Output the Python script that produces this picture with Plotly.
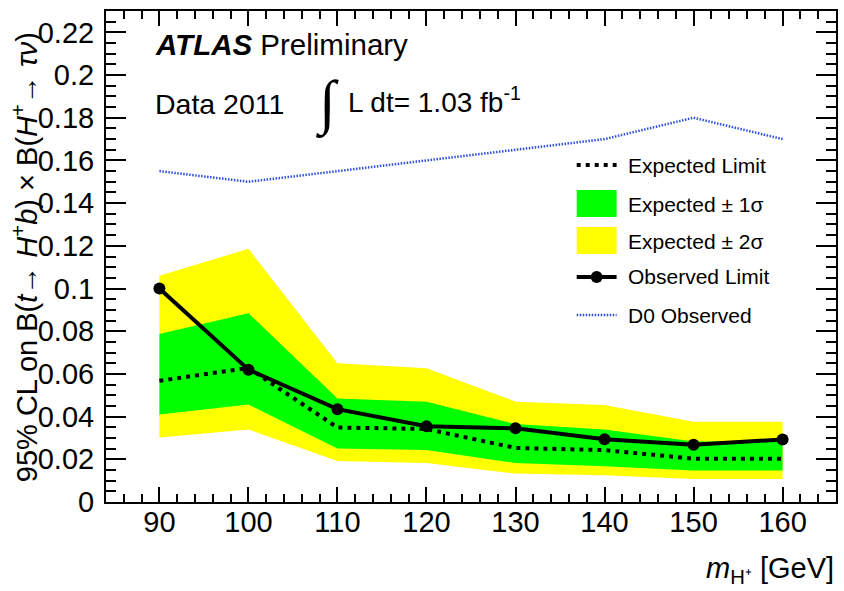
import plotly.graph_objects as go

# Charged Higgs search: 95% CL upper limits on B(t -> H+ b) x B(H+ -> tau nu)
mass = [90, 100, 110, 120, 130, 140, 150, 160]
observed = [0.100, 0.062, 0.0435, 0.0355, 0.0345, 0.0294, 0.0268, 0.0293]
expected = [0.0568, 0.0628, 0.0349, 0.0342, 0.0253, 0.0243, 0.0203, 0.0203]
sigma1_hi = [0.0787, 0.0884, 0.0485, 0.0470, 0.0365, 0.0340, 0.0283, 0.0285]
sigma1_lo = [0.0410, 0.0457, 0.0251, 0.0243, 0.0183, 0.0168, 0.0148, 0.0148]
sigma2_hi = [0.1060, 0.1186, 0.0650, 0.0626, 0.0470, 0.0454, 0.0376, 0.0376]
sigma2_lo = [0.0302, 0.0340, 0.0192, 0.0183, 0.0133, 0.0125, 0.0108, 0.0108]
d0_observed = [0.155, 0.150, 0.155, 0.160, 0.165, 0.170, 0.180, 0.170]

x_ticks = [90, 100, 110, 120, 130, 140, 150, 160]
y_ticks = [0, 0.02, 0.04, 0.06, 0.08, 0.1, 0.12, 0.14, 0.16, 0.18, 0.2, 0.22]
y_tick_labels = ["0", "0.02", "0.04", "0.06", "0.08", "0.1", "0.12", "0.14",
                 "0.16", "0.18", "0.2", "0.22"]

legend_labels = ["Expected Limit", "Expected \u00b1 1\u03c3", "Expected \u00b1 2\u03c3",
                 "Observed Limit", "D0 Observed"]

GREEN = "#00ff00"
YELLOW = "#ffff00"
BLUE = "#2f4fe0"
FONT = "Liberation Sans"

W, H = 844, 591
L, R, T, B = 106, 838, 11, 502  # plot frame in pixels


def px(x):
    return (x - L) / (R - L)


def py(y):
    return (B - y) / (B - T)


fig = go.Figure()

# +-2 sigma band, then +-1 sigma band on top
fig.add_trace(go.Scatter(
    x=mass + mass[::-1], y=sigma2_hi + sigma2_lo[::-1],
    fill="toself", fillcolor=YELLOW, mode="none", hoverinfo="skip"))
fig.add_trace(go.Scatter(
    x=mass + mass[::-1], y=sigma1_hi + sigma1_lo[::-1],
    fill="toself", fillcolor=GREEN, mode="none", hoverinfo="skip"))

fig.add_trace(go.Scatter(
    x=mass, y=d0_observed, mode="lines",
    line=dict(color=BLUE, width=2.5, dash="1.5px,1.5px")))
fig.add_trace(go.Scatter(
    x=mass, y=expected, mode="lines",
    line=dict(color="black", width=4, dash="4px,5px")))
fig.add_trace(go.Scatter(
    x=mass, y=observed, mode="lines+markers",
    line=dict(color="black", width=4),
    marker=dict(color="black", size=12)))

axis_common = dict(
    showgrid=False, zeroline=False, showline=True, linecolor="black",
    linewidth=2, mirror="allticks", ticks="inside", tickcolor="black",
    tickwidth=1.5, tickfont=dict(family=FONT, size=29, color="black"),
)

fig.update_xaxes(
    range=[84, 166], tickmode="array", tickvals=x_ticks,
    ticktext=[str(v) for v in x_ticks], ticklen=15, ticklabelstandoff=-7,
    minor=dict(dtick=2, tick0=84, ticklen=8, tickcolor="black", tickwidth=1.5,
               ticks="inside", showgrid=False),
    **axis_common)
fig.update_yaxes(
    range=[0, 0.23], tickmode="array", tickvals=y_ticks, ticktext=y_tick_labels,
    ticklen=20, ticklabelstandoff=4,
    minor=dict(dtick=0.005, tick0=0, ticklen=10, tickcolor="black", tickwidth=1.5,
               ticks="inside", showgrid=False),
    **axis_common)

shapes = []
annotations = []

# legend box contents
lx0, lx1 = 578, 618
text_x = 627
rows = [165, 204, 241, 277, 315]
shapes.append(dict(type="line", xref="paper", yref="paper",
                   x0=px(lx0), x1=px(lx1), y0=py(rows[0]), y1=py(rows[0]),
                   line=dict(color="black", width=4, dash="4px,5px")))
shapes.append(dict(type="rect", xref="paper", yref="paper",
                   x0=px(lx0), x1=px(lx1), y0=py(217), y1=py(190),
                   fillcolor=GREEN, line=dict(width=0)))
shapes.append(dict(type="rect", xref="paper", yref="paper",
                   x0=px(lx0), x1=px(lx1), y0=py(254), y1=py(227),
                   fillcolor=YELLOW, line=dict(width=0)))
shapes.append(dict(type="line", xref="paper", yref="paper",
                   x0=px(lx0), x1=px(lx1), y0=py(rows[3]), y1=py(rows[3]),
                   line=dict(color="black", width=4)))
shapes.append(dict(type="circle", xref="paper", yref="paper",
                   x0=px(598 - 6), x1=px(598 + 6), y0=py(rows[3] + 6), y1=py(rows[3] - 6),
                   fillcolor="black", line=dict(color="black", width=0)))
shapes.append(dict(type="line", xref="paper", yref="paper",
                   x0=px(lx0), x1=px(lx1), y0=py(rows[4]), y1=py(rows[4]),
                   line=dict(color=BLUE, width=2.5, dash="1.5px,1.5px")))
for label, yrow in zip(legend_labels, rows):
    annotations.append(dict(
        text=label, xref="paper", yref="paper", x=px(text_x), y=py(yrow),
        xanchor="left", yanchor="middle", showarrow=False,
        font=dict(family=FONT, size=21, color="black")))

# labels inside the frame
annotations.append(dict(
    text="<b><i>ATLAS</i></b> Preliminary", xref="paper", yref="paper",
    x=px(153), y=py(45), xanchor="left", yanchor="middle", showarrow=False,
    font=dict(family=FONT, size=29.5, color="black")))
annotations.append(dict(
    text="Data 2011", xref="paper", yref="paper",
    x=px(153), y=py(104), xanchor="left", yanchor="middle", showarrow=False,
    font=dict(family=FONT, size=28.5, color="black")))
annotations.append(dict(
    text="\u222b", xref="paper", yref="paper",
    x=px(328), y=py(104), xanchor="center", yanchor="middle", showarrow=False,
    font=dict(family="Liberation Serif", size=60, color="black")))
annotations.append(dict(
    text="L dt= 1.03 fb<sup>-1</sup>", xref="paper", yref="paper",
    x=px(347), y=py(100), xanchor="left", yanchor="middle", showarrow=False,
    font=dict(family=FONT, size=28, color="black")))

# axis titles
annotations.append(dict(
    text="95% CL on B(<i>t</i>\u2192 <i>H</i><sup>+</sup><i>b</i>) \u00d7 "
         "B(<i>H</i><sup>+</sup>\u2192 <i>\u03c4\u03bd</i>)",
    xref="paper", yref="paper", x=px(25), y=py(257), xanchor="center",
    yanchor="middle", textangle=-90, showarrow=False,
    font=dict(family=FONT, size=29, color="black")))
annotations.append(dict(
    text="<i>m</i><sub>H\u207a</sub> [GeV]", xref="paper", yref="paper",
    x=px(838), y=py(570), xanchor="right", yanchor="middle", showarrow=False,
    font=dict(family=FONT, size=29, color="black")))

fig.update_layout(
    width=W, height=H, showlegend=False,
    margin=dict(l=L, r=W - R, t=T, b=H - B),
    paper_bgcolor="white", plot_bgcolor="white",
    shapes=shapes, annotations=annotations,
)

fig.write_html("out.html")
